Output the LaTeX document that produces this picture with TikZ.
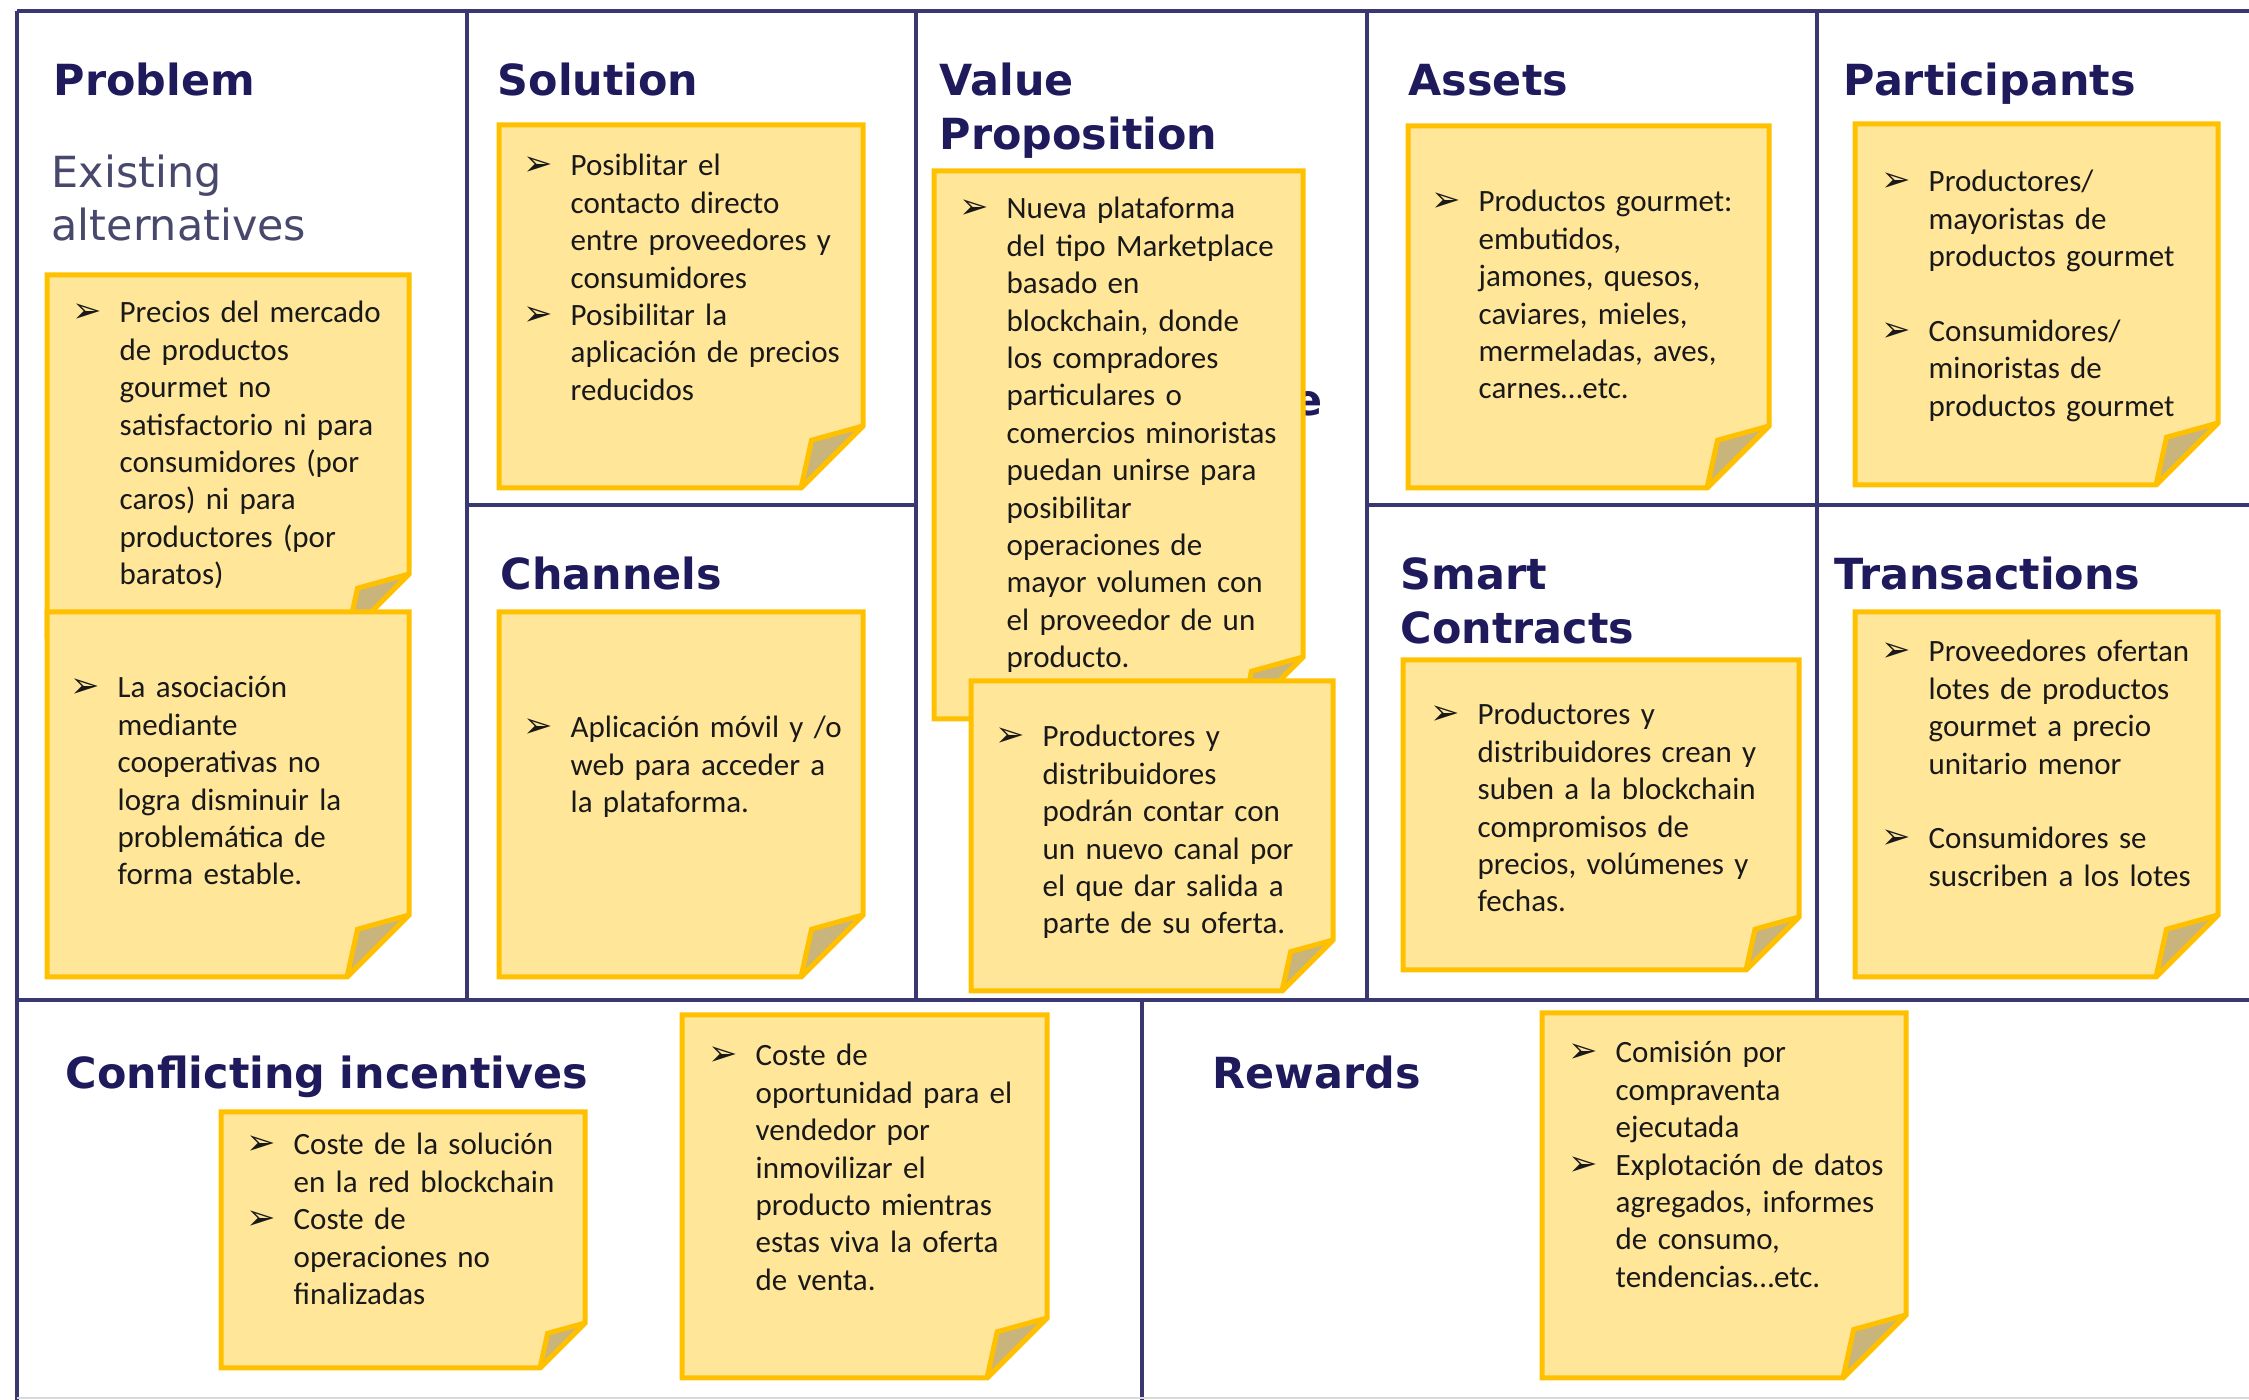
\documentclass[tikz,border=0pt]{standalone}
\usepackage{fontspec}
\setmainfont{Carlito}
\newfontfamily\headfont{DejaVu Sans}
\newfontfamily\symbfont{DejaVu Sans}
\usetikzlibrary{calc}

\definecolor{canvasline}{RGB}{58,56,112}
\definecolor{headnavy}{RGB}{30,26,92}
\definecolor{subnavy}{RGB}{72,72,108}
\definecolor{notefill}{RGB}{255,230,153}
\definecolor{noteedge}{RGB}{255,192,0}
\definecolor{flapfill}{RGB}{201,180,124}

% sticky note with curled corner: [fold]{left}{top}{right}{bottom}
\newcommand\postit[5][62]{%
  \filldraw[stickynote] (#2,#3) -- (#4,#3) -- (#4,#5-#1) -- (#4-#1,#5) -- (#2,#5) -- cycle;
  \filldraw[stickyflap] (#4,#5-#1) -- (#4-0.83*#1,#5-0.77*#1) -- (#4-#1,#5) -- cycle;}
% hanging arrow bullet
\newcommand\arrowitem{\leavevmode\llap{\makebox[13.3pt][l]{\symbfont\fontsize{10}{10}\selectfont ➢}}}

\begin{document}
\begin{tikzpicture}[x=0.1mm, y=-0.1mm, line join=miter,
    gridline/.style={draw=canvasline, line width=0.45mm},
    stickynote/.style={fill=notefill, draw=noteedge, line width=0.5mm},
    stickyflap/.style={fill=flapfill, draw=noteedge, line width=0.5mm, miter limit=2.5},
    blocktitle/.style={anchor=base west, inner sep=0pt, text width=70mm, align=left, text=headnavy,
      font={\headfont\bfseries\fontsize{12.2}{15.1}\selectfont}},
    notetext/.style={anchor=base west, inner sep=0pt, text width=40mm, align=left, text=black!90,
      font={\fontsize{8.82}{10.64}\selectfont}}]
  \useasboundingbox (0,0) rectangle (2249,1400);

  % canvas grid
  \draw[gridline] (17,11) -- (2249,11);
  \draw[gridline] (17,11) -- (17,1400);
  \foreach \xx in {467,916,1367,1817}
    \draw[gridline] (\xx,11) -- (\xx,1000);
  \draw[gridline] (467,505) -- (916,505);
  \draw[gridline] (1367,505) -- (2249,505);
  \draw[gridline] (17,1000) -- (2249,1000);
  \draw[gridline] (1142,1000) -- (1142,1400);
  \draw[gray!30, line width=0.2mm] (17,1398) -- (2249,1398);

  % block titles
  \node[blocktitle] (problem) at (53,96) {Problem};
  \node[blocktitle, font={\headfont\fontsize{12.2}{14.8}\selectfont}, text=subnavy] (existing) at (51,188) {Existing\\alternatives};
  \node[blocktitle] (solution) at (497,96) {Solution};
  \node[blocktitle] (value) at (939,96) {Value\\Proposition};
  \node[blocktitle] (assets) at (1408,96) {Assets};
  \node[blocktitle] (participants) at (1843,96) {Participants};
  \node[blocktitle] (channels) at (500,590) {Channels};
  \node[blocktitle] (smart) at (1400,590) {Smart\\Contracts};
  \node[blocktitle] (transactions) at (1834,590) {Transactions};
  \node[blocktitle] (conflicting) at (65,1089) {Conflicting incentives};
  \node[blocktitle] (rewards) at (1212,1089) {Rewards};
  \node[blocktitle] (hidden) at (1293,416) {e};

  % notes
  \postit{47}{275}{409}{636}
  \node[notetext] (problemtxt) at (119,323) {\arrowitem Precios del mercado\\de productos\\gourmet no\\satisfactorio ni para\\consumidores (por\\caros) ni para\\productores (por\\baratos)};
  \postit{47}{612}{409}{977}
  \node[notetext] (problemtxt2) at (117,698) {\arrowitem La asociación\\mediante\\cooperativas no\\logra disminuir la\\problemática de\\forma estable.};

  \postit{499}{125}{863}{488}
  \node[notetext] (solutiontxt) at (570,176) {\arrowitem Posiblitar el\\contacto directo\\entre proveedores y\\consumidores\\\arrowitem Posibilitar la\\aplicación de precios\\reducidos};
  \postit{499}{612}{863}{977}
  \node[notetext] (channelstxt) at (570,738) {\arrowitem Aplicación móvil y /o\\web para acceder a\\la plataforma.};

  \postit{934}{171}{1303}{719}
  \node[notetext] (valuetxt) at (1006,219) {\arrowitem Nueva plataforma\\del tipo Marketplace\\basado en\\blockchain, donde\\los compradores\\particulares o\\comercios minoristas\\puedan unirse para\\posibilitar\\operaciones de\\mayor volumen con\\el proveedor de un\\producto.};
  \postit[51]{971}{681}{1333}{991}
  \node[notetext] (valuetxt2) at (1042,747) {\arrowitem Productores y\\distribuidores\\podrán contar con\\un nuevo canal por\\el que dar salida a\\parte de su oferta.};

  \postit{1408}{126}{1769}{488}
  \node[notetext] (assetstxt) at (1478,212) {\arrowitem Productos gourmet:\\embutidos,\\jamones, quesos,\\caviares, mieles,\\mermeladas, aves,\\carnes…etc.};
  \postit{1855}{124}{2218}{485}
  \node[notetext] (participantstxt) at (1928,192) {\arrowitem Productores/\\mayoristas de\\productos gourmet\\[10.64pt]\arrowitem Consumidores/\\minoristas de\\productos gourmet};

  \postit[53]{1403}{660}{1799}{970}
  \node[notetext] (smarttxt) at (1477,725) {\arrowitem Productores y\\distribuidores crean y\\suben a la blockchain\\compromisos de\\precios, volúmenes y\\fechas.};
  \postit{1855}{612}{2218}{977}
  \node[notetext] (transactionstxt) at (1928,662) {\arrowitem Proveedores ofertan\\lotes de productos\\gourmet a precio\\unitario menor\\[10.64pt]\arrowitem Consumidores se\\suscriben a los lotes};

  \postit[45]{221}{1112}{585}{1368}
  \node[notetext] (conflicttxt) at (293,1155) {\arrowitem Coste de la solución\\en la red blockchain\\\arrowitem Coste de\\operaciones no\\finalizadas};
  \postit[60]{682}{1015}{1047}{1378}
  \node[notetext] (conflicttxt2) at (755,1066) {\arrowitem Coste de\\oportunidad para el\\vendedor por\\inmovilizar el\\producto mientras\\estas viva la oferta\\de venta.};

  \postit[63]{1542}{1013}{1906}{1378}
  \node[notetext] (rewardstxt) at (1615,1063) {\arrowitem Comisión por\\compraventa\\ejecutada\\\arrowitem Explotación de datos\\agregados, informes\\de consumo,\\tendencias…etc.};
\end{tikzpicture}
\end{document}
